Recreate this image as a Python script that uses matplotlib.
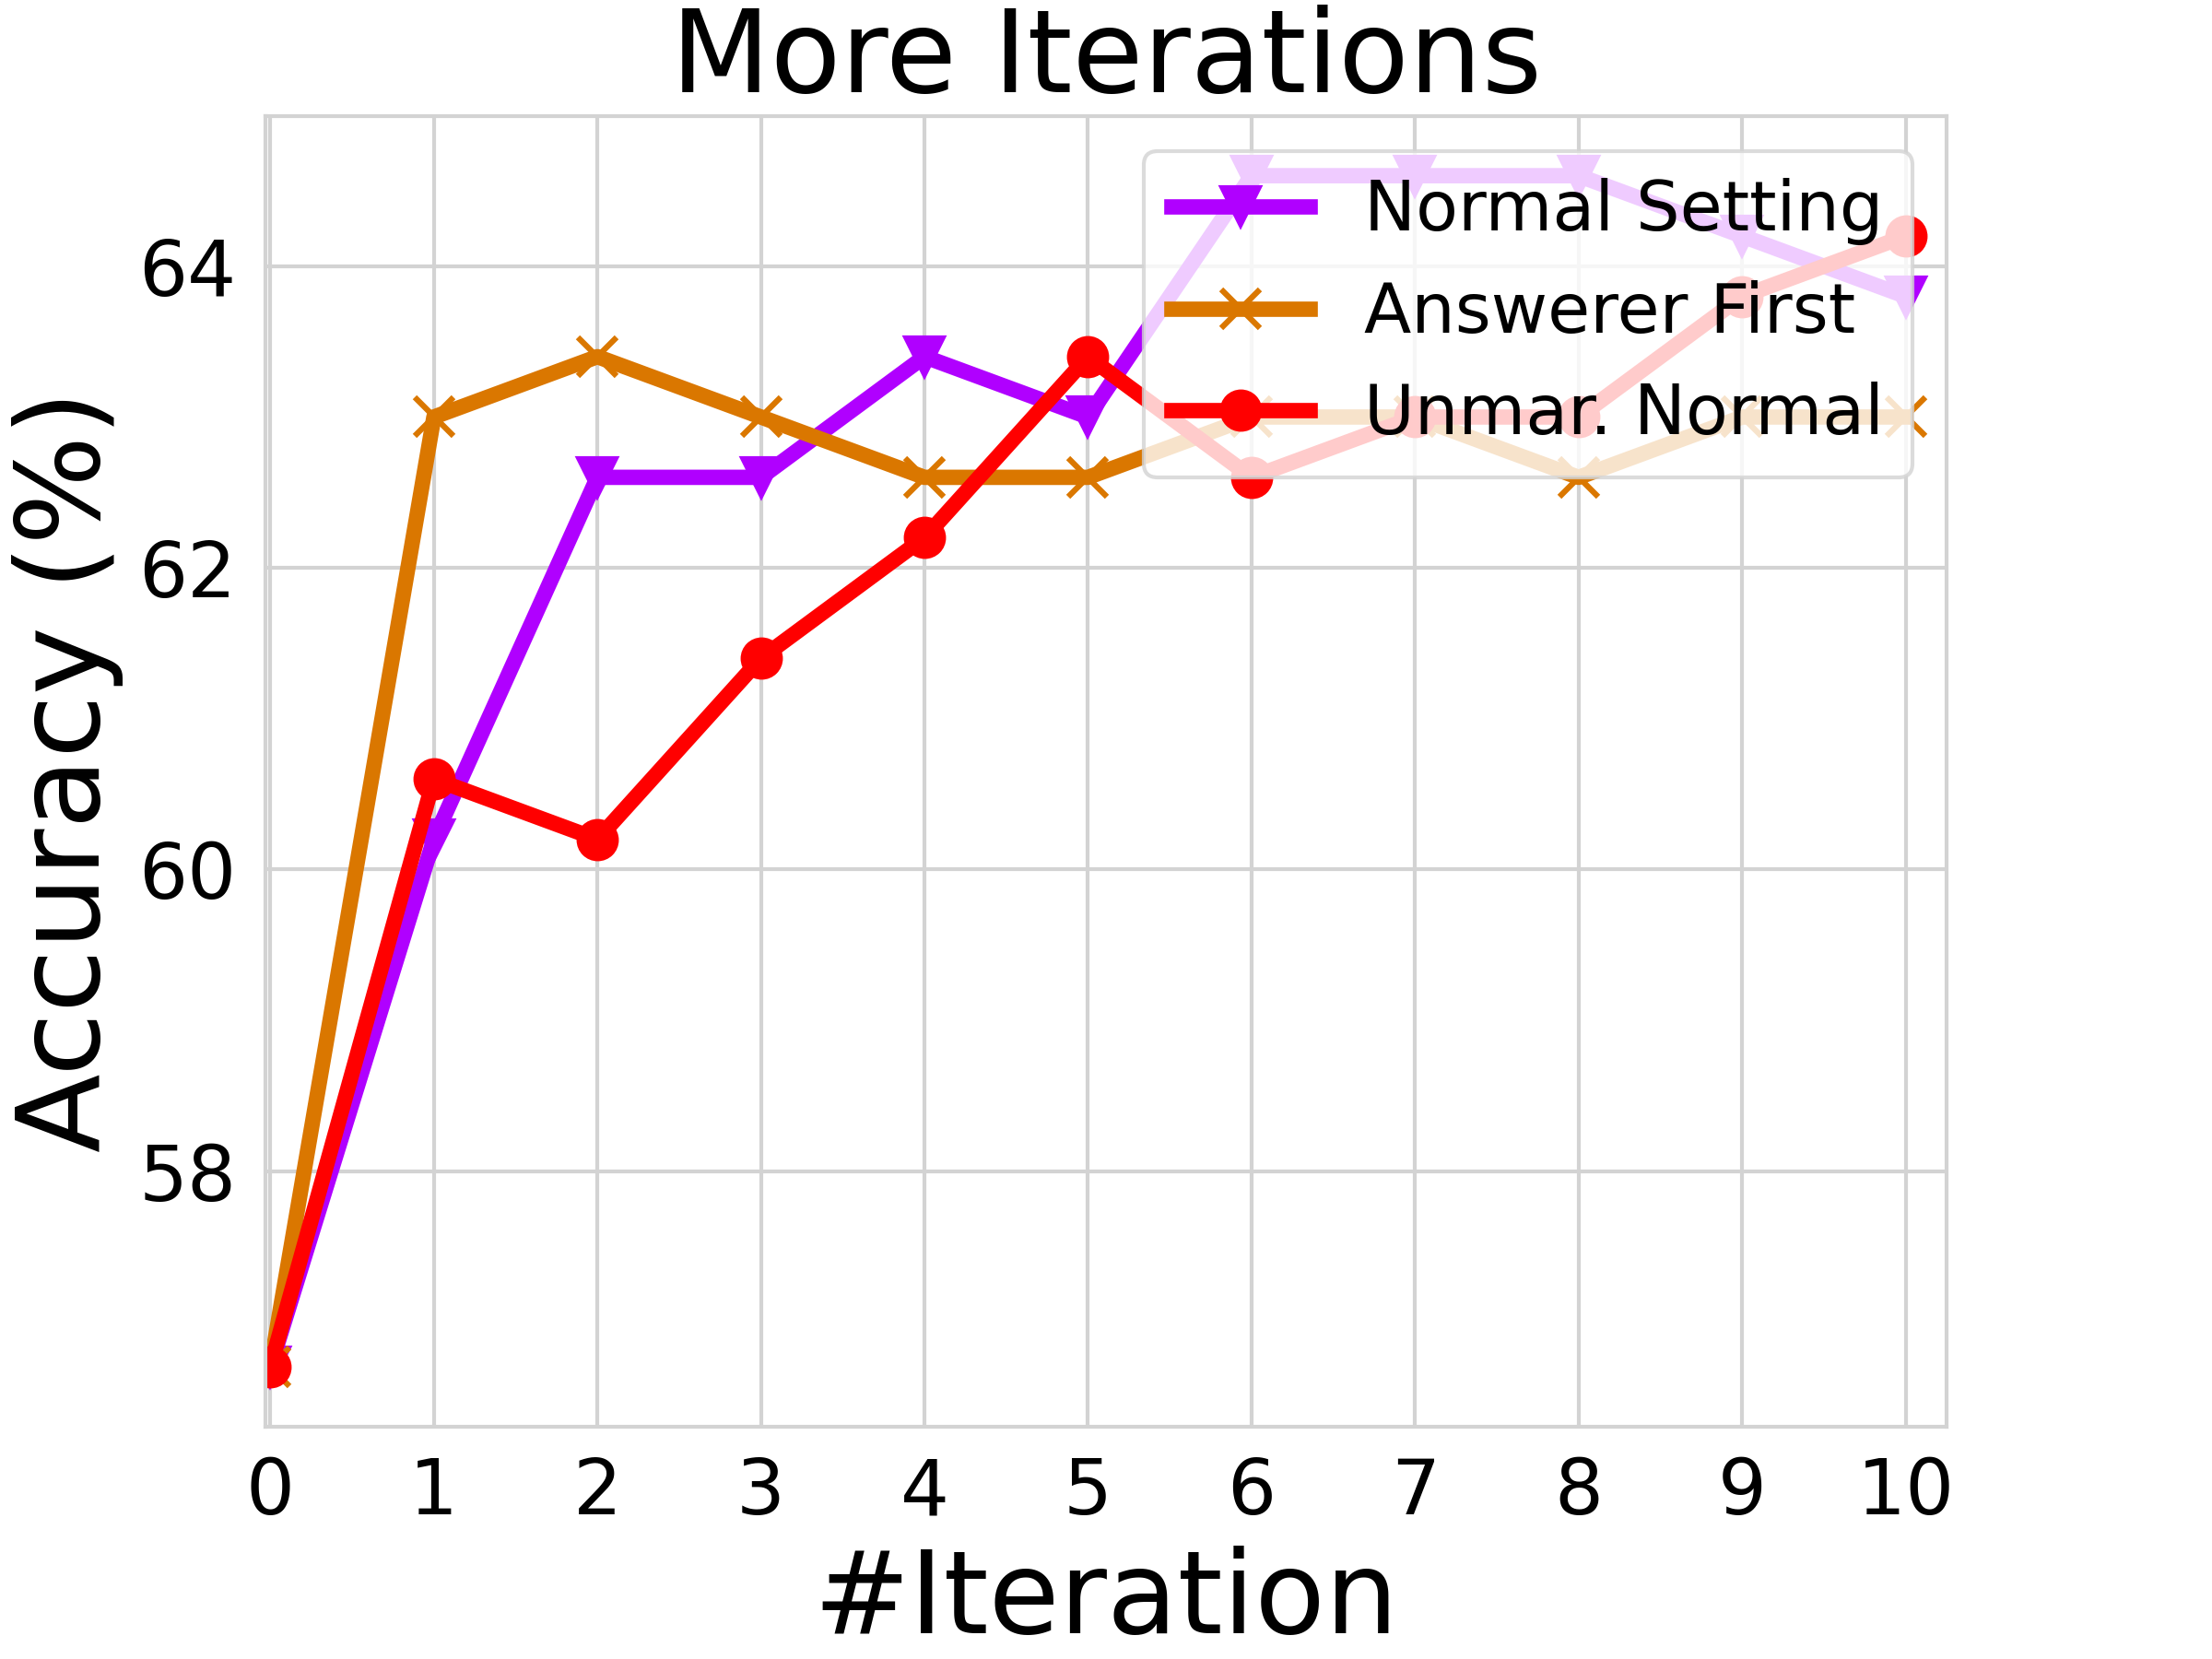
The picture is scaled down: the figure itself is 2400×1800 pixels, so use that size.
import matplotlib
matplotlib.use("Agg")
import matplotlib.pyplot as plt

# values
iterations = list(range(11))
normal_setting = [56.7, 60.2, 62.6, 62.6, 63.4, 63.0, 64.6, 64.6, 64.6, 64.2, 63.8]
answerer_first = [56.7, 63.0, 63.4, 63.0, 62.6, 62.6, 63.0, 63.0, 62.6, 63.0, 63.0]
unmar_normal = [56.7, 60.6, 60.2, 61.4, 62.2, 63.4, 62.6, 63.0, 63.0, 63.8, 64.2]

series_labels = ["Normal Setting", "Answerer First", "Unmar. Normal"]

plt.rcParams['font.family'] = ['DejaVu Sans']

fig, ax = plt.subplots(figsize=(8, 6), dpi=300)
fig.subplots_adjust(left=0.12, right=0.88, bottom=0.14, top=0.93)

ax.plot(iterations, normal_setting, color='#B000FF', linewidth=4, marker='v',
        markersize=10, label=series_labels[0])
ax.plot(iterations, answerer_first, color='#DA7700', linewidth=4, marker='x',
        markersize=10, markeredgewidth=1.5, label=series_labels[1])
ax.plot(iterations, unmar_normal, color='#FF0000', linewidth=4, marker='o',
        markersize=10, label=series_labels[2])

ax.set_xlim(-0.03, 10.25)
ax.set_xticks(iterations)
ax.grid(True, color='#d3d3d3', linewidth=1.0)
ax.set_axisbelow(True)
for s in ax.spines.values():
    s.set_color('#d3d3d3')
    s.set_linewidth(1.0)
ax.tick_params(axis='both', length=0, pad=7.5, labelsize=20)

ax.set_title("More Iterations", fontsize=30)
ax.set_xlabel("#Iteration", fontsize=30)
ax.set_ylabel("Accuracy (%)", fontsize=30)
ax.legend(loc='upper right', fontsize=18, framealpha=0.8, edgecolor='#d3d3d3')

fig.savefig("out.png", dpi=300)
